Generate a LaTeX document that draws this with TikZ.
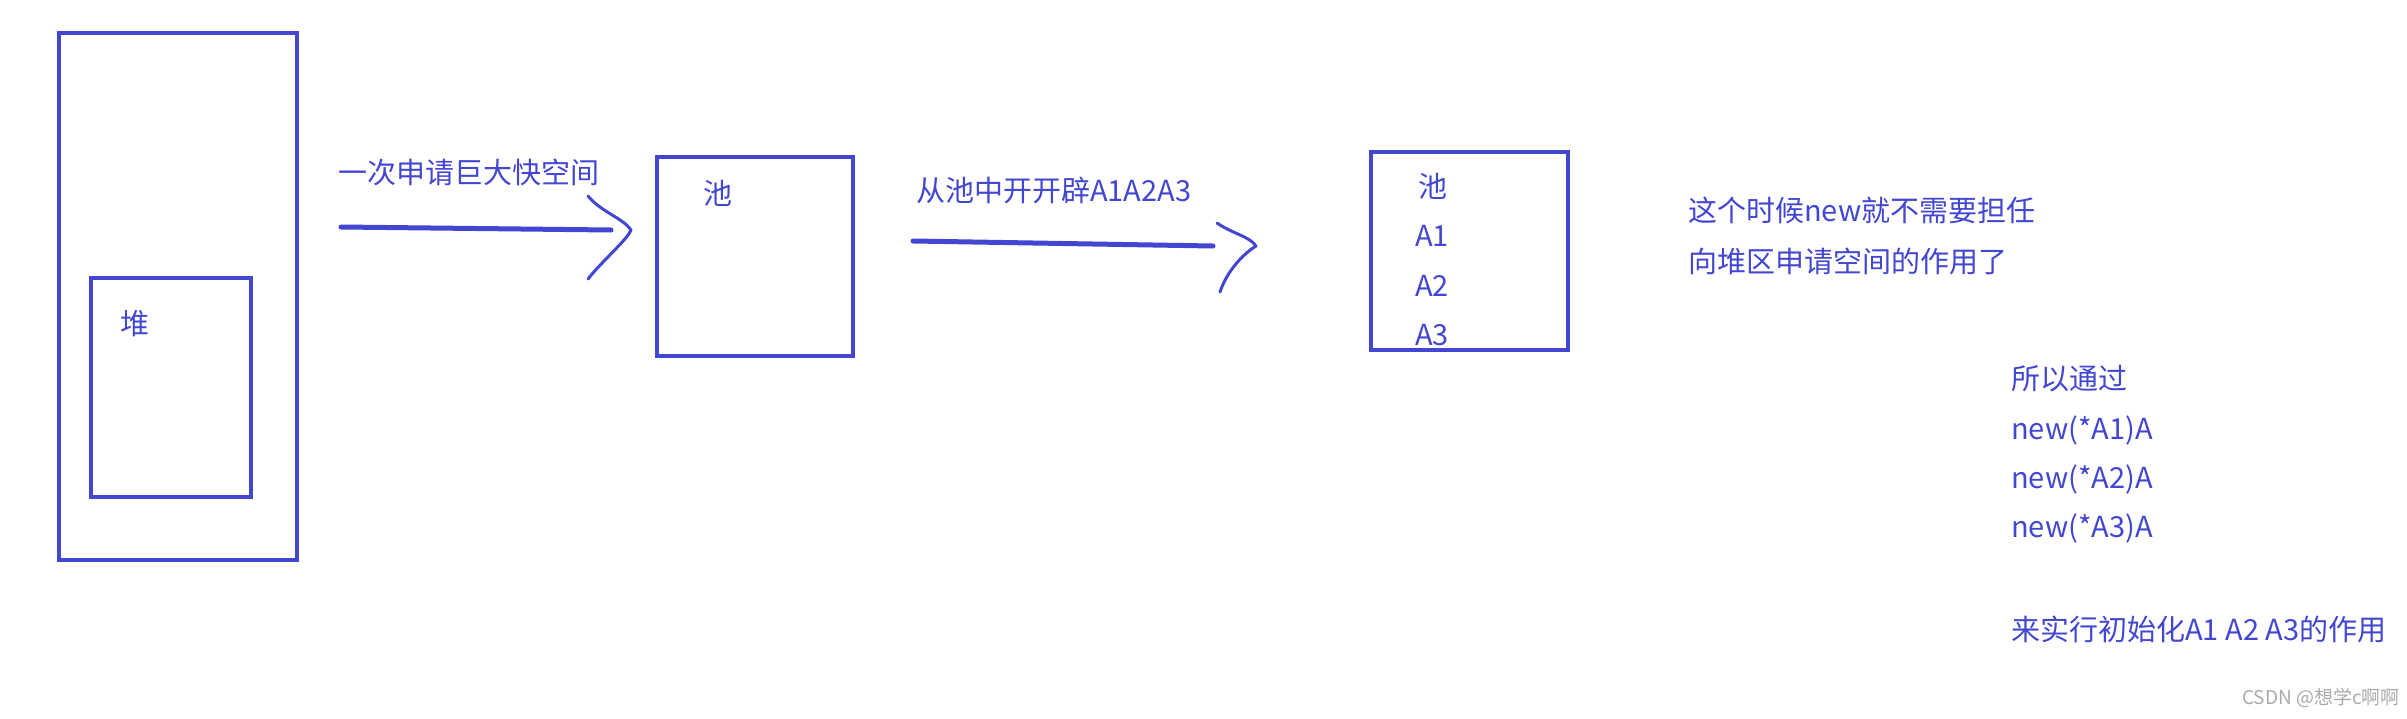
\documentclass[tikz,border=0pt]{standalone}
\usepackage{fontspec}
\newfontfamily\cjk{Noto Sans CJK SC}
\usetikzlibrary{positioning}
\definecolor{penblue}{RGB}{66,70,208}
\definecolor{markgray}{RGB}{170,170,170}
\tikzset{
  box/.style={draw=penblue, line width=4pt, inner sep=0pt},
  lbl/.style={text=penblue, font=\cjk\fontsize{29}{35}\selectfont, anchor=west, inner sep=0pt},
  pen/.style={draw=penblue, line width=5pt, line cap=round},
  barb/.style={draw=penblue, line width=3pt, line cap=round, line join=round},
}

\begin{document}
\begin{tikzpicture}[x=1pt, y=-1pt]
      \useasboundingbox (0,0) rectangle (2407,718);

      % memory, heap inside
      \node[box, minimum width=238pt, minimum height=527pt] (mem) at (178,296.5) {};
      \node[box, minimum width=160pt, minimum height=219pt] (heap) at (171,387.5) {};
      \node[lbl] (heaplbl) at (120,324) {堆};

      % first step
      \coordinate (s1) at (341,227);
      \coordinate (e1) at (611,230);
      \draw[pen] (s1) -- (e1);
      \draw[barb, shift={(e1)}] (-23,-34) .. controls (-10,-18) and (12,-12) .. (20,0)
            .. controls (16,10) and (-8,30) .. (-23,49);
      \node[lbl] (ask) at (338,172) {一次申请巨大快空间};

      \node[box, minimum width=196pt, minimum height=199pt] (pool) at (755,256.5) {};
      \node[lbl] (poollbl) at (703,193) {池};

      % second step
      \coordinate (s2) at (913,241);
      \coordinate (e2) at (1213,246);
      \draw[pen] (s2) -- (e2);
      \draw[barb, shift={(e2)}] (4,-23) .. controls (20,-12) and (36,-10) .. (43,0)
            .. controls (30,8) and (14,25) .. (7,46);
      \node[lbl] (carve) at (916,190) {从池中开开辟A1A2A3};

      \node[box, minimum width=197pt, minimum height=198pt] (pool2) at (1469.5,251) {};
      \node[lbl] (p2) at (1418,186) {池};
      \node[lbl] (a1) at (1415,236) {A1};
      \node[lbl] (a2) at (1415,286) {A2};
      \node[lbl] (a3) at (1415,335) {A3};

      % notes
      \node[lbl] (n1) at (1688,210) {这个时候new就不需要担任};
      \node[lbl] (n2) at (1688,261) {向堆区申请空间的作用了};
      \node[lbl] (m1) at (2011,379) {所以通过};
      \node[lbl] (m2) at (2011,430) {new(*A1)A};
      \node[lbl] (m3) at (2011,479) {new(*A2)A};
      \node[lbl] (m4) at (2011,528) {new(*A3)A};
      \node[lbl] (m5) at (2011,629) {来实行初始化A1 A2 A3的作用};

      \node[anchor=east, inner sep=0pt, text=markgray, font=\cjk\fontsize{19}{22}\selectfont] (mark) at (2400,698) {CSDN @想学c啊啊};
    \end{tikzpicture}
\end{document}
